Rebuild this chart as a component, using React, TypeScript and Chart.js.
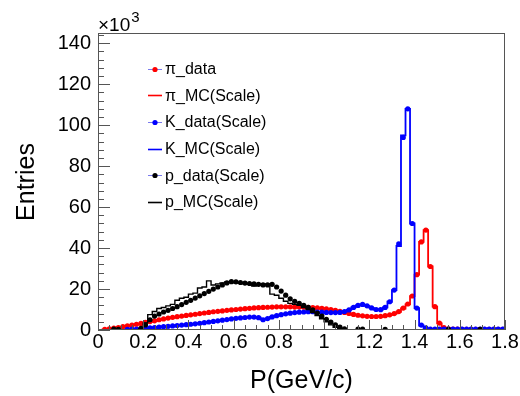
import React, { useEffect, useRef } from "react";
import { Chart, registerables } from "chart.js";

Chart.register(...registerables);

// Histogram binning (GeV/c)
const BIN_START = 0;
const BIN_WIDTH = 0.02;

// Axis tick labels
const X_TICKS = [0, 0.2, 0.4, 0.6, 0.8, 1.0, 1.2, 1.4, 1.6, 1.8];
const Y_TICKS = [0, 20, 40, 60, 80, 100, 120, 140];
const X_MIN = 0;
const X_MAX = 1.8;
const Y_MIN = 0;
const Y_MAX = 145;

const X_TITLE = "P(GeV/c)";
const Y_TITLE = "Entries";

const LEGEND_LABELS = [
  "\u03c0_data",
  "\u03c0_MC(Scale)",
  "K_data(Scale)",
  "K_MC(Scale)",
  "p_data(Scale)",
  "p_MC(Scale)",
];

// Entries per bin, in units of 10^3
const PI_DATA = [
  0, 0.3, 0.6, 0.9, 1.2, 1.6, 2.0, 2.4, 2.8, 3.2,
  3.7, 4.1, 4.5, 5.0, 5.4, 5.8, 6.2, 6.5, 6.8, 7.1,
  7.4, 7.7, 8.0, 8.3, 8.6, 8.9, 9.1, 9.3, 9.6, 9.8,
  10.0, 10.2, 10.4, 10.6, 10.8, 10.9, 11.0, 11.1, 11.2, 11.3,
  11.3, 11.3, 11.3, 11.2, 11.2, 11.1, 11.0, 10.9, 10.8, 10.6,
  10.3, 10.0, 9.6, 9.1, 8.6, 8.1, 7.6, 7.2, 6.9, 6.7,
  6.6, 6.6, 6.7, 7.0, 7.4, 8.0, 9.0, 10.7, 12.7, 16.6,
  27.0, 43.0, 48.8, 31.0, 11.4, 3.4, 1.2, 0.6, 0.4, 0.4,
  0.3, 0.3, 0.3, 0.3, 0.3, 0.3, 0.3, 0.3, 0.3, 0.3,
];

const PI_MC = [
  0.1, 0.3, 0.5, 0.8, 1.1, 1.5, 1.9, 2.3, 2.7, 3.1,
  3.6, 4.0, 4.4, 4.9, 5.3, 5.7, 6.1, 6.4, 6.7, 7.0,
  7.3, 7.6, 7.9, 8.2, 8.5, 8.8, 9.0, 9.3, 9.5, 9.7,
  9.9, 10.1, 10.3, 10.5, 10.7, 10.8, 10.9, 11.0, 11.1, 11.2,
  11.2, 11.2, 11.2, 11.1, 11.1, 11.0, 10.9, 10.8, 10.7, 10.5,
  10.2, 9.9, 9.5, 9.0, 8.5, 8.0, 7.5, 7.1, 6.8, 6.6,
  6.5, 6.5, 6.6, 6.9, 7.3, 7.9, 8.9, 10.5, 12.5, 16.5,
  27.0, 43.0, 48.8, 31.0, 11.4, 3.2, 1.0, 0.4, 0.2, 0.1,
  0.1, 0.1, 0.1, 0.1, 0.1, 0.1, 0.1, 0.1, 0.1, 0.1,
];

const K_DATA = [
  0, 0, 0, 0, 0, 0, 0.3, 0.4, 0.5, 0.6,
  0.8, 1.0, 1.2, 1.4, 1.6, 1.8, 2.0, 2.2, 2.4, 2.6,
  2.8, 3.0, 3.3, 3.6, 3.9, 4.2, 4.5, 4.8, 5.1, 5.4,
  5.7, 5.9, 6.1, 6.3, 6.3, 6.0, 5.0, 5.6, 6.4, 7.0,
  7.5, 7.9, 8.2, 8.5, 8.7, 8.8, 8.9, 8.9, 8.8, 8.7,
  8.6, 8.5, 8.5, 8.6, 9.0, 9.8, 11.0, 12.0, 12.5, 11.8,
  10.8, 10.0, 9.9, 11.0, 13.8, 19.5, 42.0, 94.0, 108.0, 52.0,
  10.7, 2.4, 1.0, 0.5, 0.5, 0.4, 0.4, 0.4, 0.4, 0.4,
  0.4, 0.4, 0.4, 0.4, 0.4, 0.4, 0.4, 0.4, 0.4, 0.4,
];

const K_MC = [
  0, 0, 0, 0, 0, 0.1, 0.2, 0.35, 0.5, 0.6,
  0.8, 1.0, 1.2, 1.4, 1.6, 1.8, 2.0, 2.2, 2.4, 2.6,
  2.8, 3.0, 3.3, 3.6, 3.9, 4.2, 4.5, 4.8, 5.1, 5.4,
  5.7, 5.9, 6.1, 6.3, 6.3, 6.0, 5.1, 5.6, 6.4, 7.0,
  7.5, 7.9, 8.2, 8.5, 8.7, 8.8, 8.9, 8.9, 8.8, 8.7,
  8.6, 8.5, 8.5, 8.6, 9.0, 9.8, 11.0, 12.0, 12.4, 11.8,
  10.8, 10.0, 9.9, 11.0, 13.8, 19.5, 41.0, 95.0, 108.0, 52.0,
  10.7, 2.2, 0.8, 0.4, 0.3, 0.3, 0.3, 0.3, 0.3, 0.3,
  0.3, 0.3, 0.3, 0.3, 0.3, 0.3, 0.3, 0.3, 0.3, 0.3,
];

const P_DATA = [
  0, 0, 0, 0.5, 0.3, 0, 0, 0, 0, 0.8,
  2.5, 5.0, 6.8, 7.8, 8.8, 9.6, 10.5, 11.4, 12.4, 13.5,
  14.5, 15.6, 16.7, 17.8, 18.9, 20.0, 21.0, 22.0, 23.0, 23.6,
  23.5, 23.2, 22.9, 22.7, 22.5, 22.3, 22.0, 22.0, 22.3, 21.0,
  19.0, 17.0, 15.2, 14.0, 13.0, 12.0, 11.0, 9.8, 8.3, 6.8,
  5.2, 3.8, 2.5, 1.4, 0.6, 0, 0, 0.4, 0.4, 0,
  0, 0, 0, 0.3, 0, 0, 0, 0, 0, 0,
  0, 0, 0, 0, 0, 0, 0, 0.3, 0, 0,
  0, 0, 0, 0, 0.3, 0, 0, 0, 0, 0,
];

const P_MC = [
  0, 0, 0, 0, 0, 0, 0, 0, 0, 0.5,
  3.5, 7.5, 9.0, 10.5, 11.0, 11.8, 12.5, 14.5, 15.5, 16.0,
  17.5, 18.0, 20.5, 21.0, 24.0, 22.0, 22.5, 23.0, 23.5, 23.2,
  23.0, 22.8, 22.5, 22.3, 21.5, 22.0, 22.2, 22.5, 17.5, 17.0,
  15.5, 14.0, 13.0, 12.5, 12.0, 11.0, 10.0, 8.5, 7.0, 5.5,
  4.0, 2.5, 1.3, 0.5, 0.2, 0, 0, 0, 0, 0,
  0, 0, 0, 0, 0, 0, 0, 0, 0, 0,
  0, 0, 0, 0, 0, 0, 0, 0, 0, 0,
  0, 0, 0, 0, 0, 0, 0, 0, 0, 0,
];

const RED = "#ff0000";
const BLUE = "#0000ff";
const BLACK = "#000000";
const FONT = "'Liberation Sans', Arial, Helvetica, sans-serif";

function dataPoints(values: number[]) {
  const pts: { x: number; y: number }[] = [];
  values.forEach((v, i) => {
    if (v > 0) pts.push({ x: BIN_START + (i + 0.5) * BIN_WIDTH, y: v });
  });
  return pts;
}

function stepPoints(values: number[]) {
  const pts: { x: number; y: number }[] = [];
  values.forEach((v, i) => {
    pts.push({ x: BIN_START + i * BIN_WIDTH, y: v });
    pts.push({ x: BIN_START + (i + 1) * BIN_WIDTH, y: v });
  });
  return pts;
}

const decorPlugin = {
  id: "decor",
  afterDraw(chart: any) {
    const { ctx, chartArea: a, scales } = chart;
    const xs = scales.x;
    const ys = scales.y;
    ctx.save();
    // frame
    ctx.strokeStyle = "#555555";
    ctx.lineWidth = 1;
    ctx.strokeRect(a.left + 0.5, a.top + 0.5, a.right - a.left - 1, a.bottom - a.top - 1);
    // y ticks
    ctx.beginPath();
    for (let k = 0; k * 4 <= Y_MAX; k++) {
      const v = k * 4;
      const py = Math.round(ys.getPixelForValue(v)) + 0.5;
      const len = k % 5 === 0 ? 12 : 6;
      ctx.moveTo(a.left, py);
      ctx.lineTo(a.left + len, py);
    }
    // x ticks
    for (let k = 0; k <= 36; k++) {
      const v = k * 0.05;
      const px = Math.round(xs.getPixelForValue(v)) + 0.5;
      const len = k % 4 === 0 ? 10 : 5;
      ctx.moveTo(px, a.bottom);
      ctx.lineTo(px, a.bottom - len);
    }
    ctx.stroke();

    // exponent label
    ctx.fillStyle = "#000";
    ctx.textBaseline = "alphabetic";
    ctx.textAlign = "left";
    ctx.font = `19px ${FONT}`;
    ctx.fillText("\u00d710", a.left, 31);
    const w = ctx.measureText("\u00d710").width;
    ctx.font = `15px ${FONT}`;
    ctx.fillText("3", a.left + w + 1, 22);

    // axis titles
    ctx.font = `25px ${FONT}`;
    ctx.textAlign = "center";
    ctx.textBaseline = "middle";
    ctx.fillText(X_TITLE, (a.left + a.right) / 2, 381);
    ctx.save();
    ctx.translate(27, 182);
    ctx.rotate(-Math.PI / 2);
    ctx.fillText(Y_TITLE, 0, 0);
    ctx.restore();

    // legend
    const colors = [RED, RED, BLUE, BLUE, BLACK, BLACK];
    const isData = [true, false, true, false, true, false];
    ctx.font = `16px ${FONT}`;
    ctx.textAlign = "left";
    ctx.textBaseline = "middle";
    LEGEND_LABELS.forEach((label, i) => {
      const cy = 68.5 + i * 26.7;
      const x0 = 148;
      const x1 = 162;
      ctx.beginPath();
      if (isData[i]) {
        ctx.strokeStyle = "#7a7aee";
        ctx.lineWidth = 1;
      } else {
        ctx.strokeStyle = colors[i];
        ctx.lineWidth = 1.6;
      }
      ctx.moveTo(x0, Math.round(cy) + 0.5);
      ctx.lineTo(x1, Math.round(cy) + 0.5);
      ctx.stroke();
      if (isData[i]) {
        ctx.beginPath();
        ctx.fillStyle = colors[i];
        ctx.arc((x0 + x1) / 2, Math.round(cy) + 0.5, 2.6, 0, Math.PI * 2);
        ctx.fill();
      }
      ctx.fillStyle = "#000";
      ctx.fillText(label, 165, cy + 1);
    });
    ctx.restore();
  },
};

export default function App() {
  const canvasRef = useRef<HTMLCanvasElement | null>(null);

  useEffect(() => {
    const canvas = canvasRef.current;
    if (!canvas) return;
    const dataStyle = (color: string) => ({
      showLine: false,
      pointRadius: 2.6,
      pointHoverRadius: 2.6,
      pointBorderWidth: 0,
      pointBackgroundColor: color,
      borderColor: color,
      backgroundColor: color,
    });
    const mcStyle = (color: string, width: number) => ({
      type: "line" as const,
      showLine: true,
      pointRadius: 0,
      borderColor: color,
      borderWidth: width,
      backgroundColor: color,
      fill: false,
      tension: 0,
    });
    const chart = new Chart(canvas, {
      type: "scatter",
      data: {
        datasets: [
          { label: LEGEND_LABELS[0], data: dataPoints(PI_DATA), order: 6, ...dataStyle(RED) },
          { label: LEGEND_LABELS[1], data: stepPoints(PI_MC), order: 5, ...mcStyle(RED, 1.8) },
          { label: LEGEND_LABELS[2], data: dataPoints(K_DATA), order: 4, ...dataStyle(BLUE) },
          { label: LEGEND_LABELS[3], data: stepPoints(K_MC), order: 3, ...mcStyle(BLUE, 1.8) },
          { label: LEGEND_LABELS[4], data: dataPoints(P_DATA), order: 2, ...dataStyle(BLACK) },
          { label: LEGEND_LABELS[5], data: stepPoints(P_MC), order: 1, ...mcStyle(BLACK, 1.4) },
        ] as any,
      },
      options: {
        animation: false,
        responsive: false,
        events: [],
        layout: { padding: { left: 0, top: 33, right: 15, bottom: 0 } },
        plugins: {
          legend: { display: false },
          tooltip: { enabled: false },
          title: { display: false },
        },
        scales: {
          x: {
            type: "linear",
            min: X_MIN,
            max: X_MAX,
            grid: { display: false, drawTicks: false },
            border: { display: false },
            afterBuildTicks: (s: any) => {
              s.ticks = X_TICKS.map((v) => ({ value: v }));
            },
            afterFit: (s: any) => {
              s.height = 66;
            },
            ticks: {
              autoSkip: false,
              maxRotation: 0,
              padding: 0,
              color: "#000",
              font: { family: FONT, size: 20 },
              callback: (v: any) => String(Number(Number(v).toFixed(1))),
            },
          },
          y: {
            type: "linear",
            min: Y_MIN,
            max: Y_MAX,
            grid: { display: false, drawTicks: false },
            border: { display: false },
            afterBuildTicks: (s: any) => {
              s.ticks = Y_TICKS.map((v) => ({ value: v }));
            },
            afterFit: (s: any) => {
              s.width = 98;
            },
            ticks: {
              autoSkip: false,
              padding: 7,
              color: "#000",
              font: { family: FONT, size: 20 },
              callback: (v: any) => String(v),
            },
          },
        },
      },
      plugins: [decorPlugin],
    });
    return () => chart.destroy();
  }, []);

  return (
    <div style={{ position: "absolute", left: 0, top: 0, width: 520, height: 396, background: "#fff" }}>
      <canvas ref={canvasRef} width={520} height={396} style={{ display: "block" }} />
    </div>
  );
}
